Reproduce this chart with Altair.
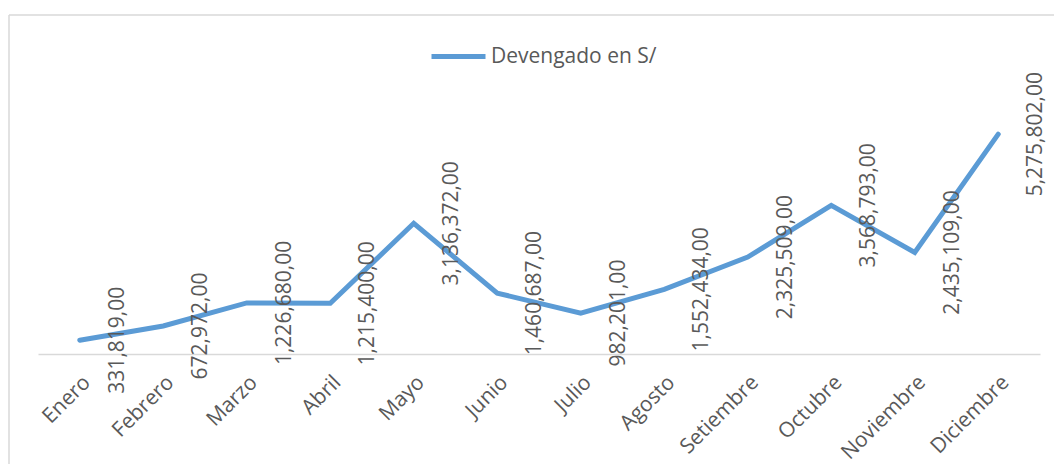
import altair as alt
import pandas as pd

# ---- data ----
months = ["Enero", "Febrero", "Marzo", "Abril", "Mayo", "Junio", "Julio",
          "Agosto", "Setiembre", "Octubre", "Noviembre", "Diciembre"]
values = [331819, 672972, 1226680, 1215400, 3136372, 1460687, 982201,
          1552434, 2325509, 3568793, 2435109, 5275802]
series_name = "Devengado en S/"


def fmt(v):
    return f"{v:,}" + ",00"


df = pd.DataFrame({
    "Mes": months,
    "Valor": values,
    "Etiqueta": [fmt(v) for v in values],
    "Serie": [series_name] * len(months),
})
frame = pd.DataFrame({"k": [0]})

W, H = 1002, 250
FONT = "Open Sans"
GRAY = "#595959"
LINE_GRAY = "#D9D9D9"
BLUE = "#5B9BD5"

x = alt.X(
    "Mes:N", sort=months, scale=alt.Scale(padding=0.5),
    axis=alt.Axis(title=None, labelAngle=315, labelAlign="right",
                  labelBaseline="middle", labelPadding=25, labelOffset=7,
                  ticks=False, grid=False, domainColor=LINE_GRAY,
                  domainWidth=1.5, labelFont=FONT, labelFontSize=21,
                  labelColor=GRAY, labelLimit=0),
)
y = alt.Y("Valor:Q", scale=alt.Scale(domain=[0, 6000000]), axis=None)

line = alt.Chart(df).mark_line(strokeWidth=5, strokeCap="round").encode(
    x=x, y=y,
    color=alt.Color(
        "Serie:N", scale=alt.Scale(range=[BLUE]),
        legend=alt.Legend(title=None, orient="none", legendX=391, legendY=-77,
                          symbolType="stroke", symbolSize=2916,
                          symbolStrokeWidth=5, labelFont=FONT,
                          labelFontSize=21, labelColor=GRAY, labelOffset=3,
                          labelLimit=0),
    ),
)

labels = alt.Chart(df).mark_text(
    angle=270, align="center", baseline="middle", dy=38,
    font=FONT, fontSize=21, color=GRAY,
).encode(x=x, y=y, text="Etiqueta:N")

border_left = alt.Chart(frame).mark_rule(color=LINE_GRAY, strokeWidth=1.5).encode(
    x=alt.value(-29), y=alt.value(-89), y2=alt.value(H + 200))
border_top = alt.Chart(frame).mark_rule(color=LINE_GRAY, strokeWidth=1.5).encode(
    x=alt.value(-29), x2=alt.value(W + 100), y=alt.value(-89))

chart = alt.layer(border_left, border_top, line, labels).properties(
    width=W, height=H,
    autosize=alt.AutoSizeParams(type="none"),
    padding={"left": 30, "top": 96, "right": 14, "bottom": 110},
    background="white",
).configure_view(stroke=None)

chart.save("out.html", embed_options={"renderer": "svg", "actions": False})
